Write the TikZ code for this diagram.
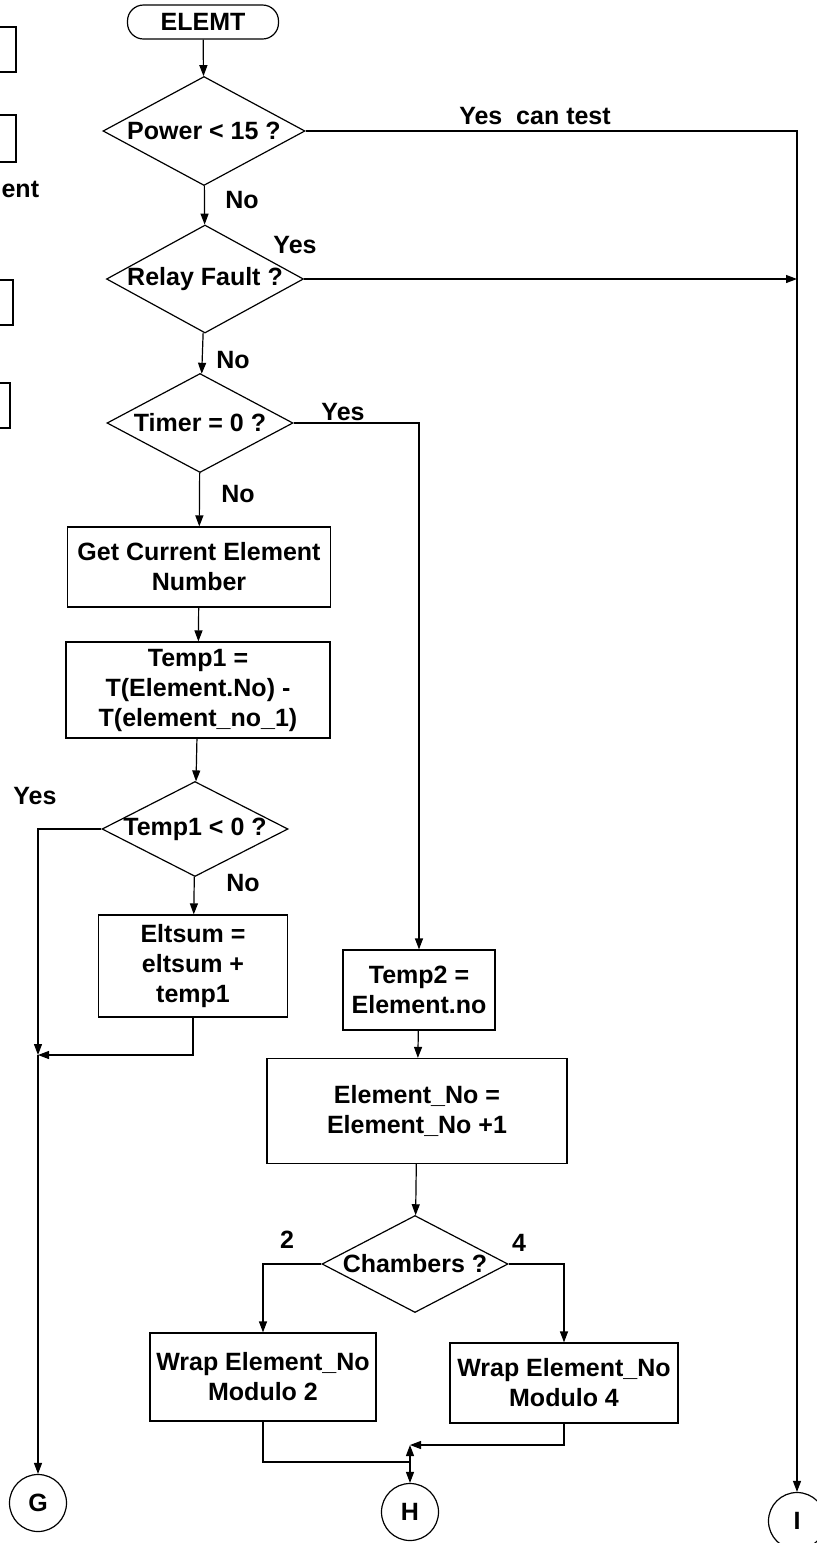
\documentclass[tikz,border=0pt]{standalone}
\usepackage{fontspec}
\setmainfont{Liberation Sans}
\usetikzlibrary{shapes.geometric, arrows.meta}

\begin{document}
\begin{tikzpicture}[x=1pt, y=-1pt, >={Stealth[length=11pt, width=8pt, inset=0pt]},
  line width=1.2pt,
  font=\fontsize{25}{30}\selectfont\bfseries,
  process/.style={draw, rectangle, align=center, inner sep=2pt},
  decision/.style={draw, diamond, inner sep=0pt},
  terminal/.style={draw, rectangle, rounded corners=16pt, inner sep=0pt},
  onpage/.style={draw, circle, inner sep=0pt, minimum size=57pt}]
  \clip (0,0) rectangle (817,1543);
  % fragments of the neighbouring chart, cut by the left edge
  \draw (-40,27) rectangle (16,72);
  \draw (-40,115) rectangle (16,162);
  \draw (-40,280) rectangle (13,325);
  \draw (-40,383) rectangle (10,428);
  \node[anchor=west, inner sep=0pt] (frag) at (1,189) {ent};
  % main column
  \node[terminal, minimum width=151pt, minimum height=34pt] (start) at (203,22) {ELEMT};
  \node[decision, minimum width=202pt, minimum height=109pt, label=center:{Power < 15 ?}] (power) at (204,131) {};
  \node[decision, minimum width=197pt, minimum height=108pt, label=center:{Relay Fault ?}] (relay) at (205,279) {};
  \node[decision, minimum width=186pt, minimum height=99pt, label=center:{Timer = 0 ?}] (timer) at (200,423) {};
  \node[process, minimum width=263pt, minimum height=80pt] (getcur) at (199,567) {Get Current Element\\Number};
  \node[process, minimum width=264pt, minimum height=96pt] (temp1) at (198,690) {Temp1 =\\T(Element.No) -\\T(element\_no\_1)};
  \node[decision, minimum width=186pt, minimum height=95pt, label=center:{Temp1 < 0 ?}] (neg) at (195,829) {};
  \node[process, minimum width=189pt, minimum height=102pt] (eltsum) at (193,966) {Eltsum =\\eltsum +\\temp1};
  % timer expired branch
  \node[process, minimum width=152pt, minimum height=80pt] (temp2) at (419,990) {Temp2 =\\Element.no};
  \node[process, minimum width=300pt, minimum height=105pt] (elemno) at (417,1111) {Element\_No =\\Element\_No +1};
  \node[decision, minimum width=186pt, minimum height=97pt, label=center:{Chambers ?}] (chambers) at (415,1264) {};
  \node[process, minimum width=226pt, minimum height=88pt] (mod2) at (263,1377) {Wrap Element\_No\\Modulo 2};
  \node[process, minimum width=228pt, minimum height=80pt] (mod4) at (564,1383) {Wrap Element\_No\\Modulo 4};
  % off-page connectors
  \node[onpage] (G) at (38,1503) {G};
  \node[onpage] (H) at (410,1512) {H};
  \node[onpage] (I) at (797,1521) {I};
  \coordinate (jG) at (38,1055);
  \coordinate (jH4) at (410,1445);
  \coordinate (jH2) at (410,1462);
  % branch labels
  \node (lpowno) at (242,200) {No};
  \node (lpowyes) at (535,116) {Yes~ can test};
  \node (lrelyes) at (295,245) {Yes};
  \node (lrelno) at (233,360) {No};
  \node (ltimyes) at (343,412) {Yes};
  \node (ltimno) at (238,494) {No};
  \node (lnegyes) at (35,796) {Yes};
  \node (lnegno) at (243,883) {No};
  \node (lch2) at (287,1240) {2};
  \node (lch4) at (519,1243) {4};
  % flow lines
  \draw[->] (start) -- (power);
  \draw[->] (power) -- (relay);
  \draw[->] (relay) -- (timer);
  \draw[->] (timer) -- (getcur);
  \draw[->] (getcur) -- (temp1);
  \draw[->] (temp1) -- (neg);
  \draw[->] (neg) -- (eltsum);
  \draw[->] (power.east) -| (I.north);
  \draw[->] (relay.east) -- (relay.east -| I.north);
  \draw[->] (timer.east) -| (temp2.north);
  \draw[->] (temp2) -- (elemno);
  \draw[->] (elemno) -- (chambers);
  \draw[->] (neg.west) -| (jG);
  \draw[->] (eltsum.south) |- (jG);
  \draw[->] (jG) -- (G);
  \draw[->] (chambers.west) -| (mod2.north);
  \draw[->] (chambers.east) -| (mod4.north);
  \draw[->] (mod4.south) |- (jH4);
  \draw (mod2.south) |- (jH2);
  \draw[<->] (jH4) -- (H);
\end{tikzpicture}
\end{document}
